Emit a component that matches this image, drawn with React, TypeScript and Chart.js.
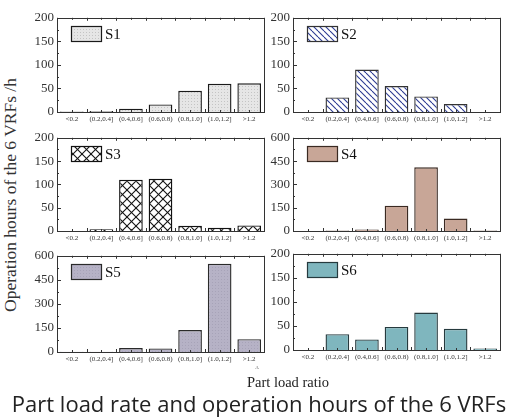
import React, { useEffect, useRef } from "react";
import { Chart, registerables } from "chart.js";

Chart.register(...registerables);

const categories = ["<0.2", "(0.2,0.4]", "(0.4,0.6]", "(0.6,0.8)", "(0.8,1.0]", "(1.0,1.2]", ">1.2"];
const s1Values = [1, 2, 7, 16, 45, 60, 61];
const s2Values = [0, 31, 90, 55, 33, 17, 0];
const s3Values = [0, 4, 110, 112, 11, 7, 12];
const s4Values = [0, 3, 10, 163, 410, 80, 3];
const s5Values = [2, 2, 25, 22, 137, 550, 80];
const s6Values = [0, 33, 22, 48, 78, 44, 3];
const seriesNames = ["S1", "S2", "S3", "S4", "S5", "S6"];
const smallMax = 200;
const smallStep = 50;
const bigMax = 600;
const bigStep = 150;

const SERIF = "'Liberation Serif', 'Times New Roman', serif";

type Kind = "dots" | "hatch" | "cross" | "solid";

function makePattern(kind: Kind, bg: string, fg: string): CanvasPattern | string {
  if (kind === "solid") return bg;
  const c = document.createElement("canvas");
  const size = kind === "dots" ? 3 : kind === "hatch" ? 6 : 9;
  c.width = size;
  c.height = size;
  const ctx = c.getContext("2d")!;
  ctx.fillStyle = bg;
  ctx.fillRect(0, 0, size, size);
  if (kind === "dots") {
    ctx.fillStyle = fg;
    ctx.fillRect(1, 1, 1, 1);
  } else if (kind === "hatch") {
    ctx.strokeStyle = fg;
    ctx.lineWidth = 1.1;
    for (const o of [-size, 0, size]) {
      ctx.beginPath();
      ctx.moveTo(o, 0);
      ctx.lineTo(o + size, size);
      ctx.stroke();
    }
  } else {
    ctx.strokeStyle = fg;
    ctx.lineWidth = 1.1;
    for (const o of [-size, 0, size]) {
      ctx.beginPath();
      ctx.moveTo(o, 0);
      ctx.lineTo(o + size, size);
      ctx.stroke();
      ctx.beginPath();
      ctx.moveTo(o + size, 0);
      ctx.lineTo(o, size);
      ctx.stroke();
    }
  }
  const ctx2 = document.createElement("canvas").getContext("2d")!;
  return ctx2.createPattern(c, "repeat")!;
}

interface PanelSpec {
  name: string;
  values: number[];
  max: number;
  step: number;
  kind: Kind;
  bg: string;
  fg: string;
  border: string;
  left: number;
  top: number;
  plotH: number;
}

const PLOT_W = 207;
const Y_W = 29;
const PAD_TOP = 8;
const X_H = 14;

const panels: PanelSpec[] = [
  { name: seriesNames[0], values: s1Values, max: smallMax, step: smallStep, kind: "dots", bg: "#e6e6e6", fg: "#c4c4c4", border: "#1a1a1a", left: 28, top: 15, plotH: 97 },
  { name: seriesNames[1], values: s2Values, max: smallMax, step: smallStep, kind: "hatch", bg: "#ffffff", fg: "#2b3a93", border: "#333333", left: 264, top: 15, plotH: 97 },
  { name: seriesNames[2], values: s3Values, max: smallMax, step: smallStep, kind: "cross", bg: "#ffffff", fg: "#111111", border: "#111111", left: 28, top: 135, plotH: 96 },
  { name: seriesNames[3], values: s4Values, max: bigMax, step: bigStep, kind: "solid", bg: "#c8a697", fg: "", border: "#3a2a22", left: 264, top: 135, plotH: 96 },
  { name: seriesNames[4], values: s5Values, max: bigMax, step: bigStep, kind: "dots", bg: "#b6b2c6", fg: "#a7a3b8", border: "#2a2a2a", left: 28, top: 253, plotH: 99 },
  { name: seriesNames[5], values: s6Values, max: smallMax, step: smallStep, kind: "solid", bg: "#7fb6be", fg: "", border: "#263a3e", left: 264, top: 251, plotH: 99 },
];

function Panel({ spec }: { spec: PanelSpec }) {
  const ref = useRef<HTMLCanvasElement>(null);
  const width = Y_W + PLOT_W + 2;
  const height = PAD_TOP + spec.plotH + X_H;
  useEffect(() => {
    const fill = makePattern(spec.kind, spec.bg, spec.fg);
    const framePlugin = {
      id: "frame",
      afterDraw(chart: any) {
        const { ctx, chartArea } = chart;
        const { left, top, right, bottom } = chartArea;
        ctx.save();
        ctx.strokeStyle = "#333";
        ctx.lineWidth = 1;
        ctx.strokeRect(Math.round(left) + 0.5, Math.round(top) + 0.5, Math.round(right - left), Math.round(bottom - top));
        const y = chart.scales.y;
        const n = spec.max / spec.step;
        for (let i = 0; i <= n * 2; i++) {
          const v = (i * spec.step) / 2;
          const py = Math.round(y.getPixelForValue(v)) + 0.5;
          const len = i % 2 === 0 ? 4 : 2;
          ctx.beginPath();
          ctx.moveTo(left, py);
          ctx.lineTo(left + len, py);
          ctx.stroke();
        }
        const cw = (right - left) / categories.length;
        for (let i = 0; i <= categories.length * 2; i++) {
          const px = Math.round(left + (i * cw) / 2) + 0.5;
          const len = i % 2 === 0 ? 3 : 2;
          ctx.beginPath();
          ctx.moveTo(px, bottom);
          ctx.lineTo(px, bottom - len);
          ctx.moveTo(px, top);
          ctx.lineTo(px, top + len);
          ctx.stroke();
        }
        const lx = Math.round(left) + 14;
        const ly = Math.round(top) + 8;
        ctx.fillStyle = fill as any;
        ctx.fillRect(lx, ly, 30, 15);
        ctx.strokeStyle = spec.border;
        ctx.lineWidth = 1.2;
        ctx.strokeRect(lx + 0.5, ly + 0.5, 30, 15);
        ctx.fillStyle = "#111";
        ctx.font = `15px ${SERIF}`;
        ctx.textBaseline = "middle";
        ctx.textAlign = "left";
        ctx.fillText(spec.name, lx + 34, ly + 9);
        ctx.restore();
      },
    };
    const chart = new Chart(ref.current!, {
      type: "bar",
      data: {
        labels: categories,
        datasets: [
          {
            data: spec.values,
            backgroundColor: fill as any,
            borderColor: spec.border,
            borderWidth: 1.4,
            barPercentage: 0.8,
            categoryPercentage: 1,
          },
        ],
      },
      options: {
        animation: false,
        responsive: false,
        devicePixelRatio: 1,
        layout: { padding: { top: PAD_TOP, right: 2, left: 0, bottom: 0 } },
        plugins: { legend: { display: false }, tooltip: { enabled: false } },
        scales: {
          x: {
            grid: { display: false, drawTicks: false },
            border: { display: false },
            ticks: {
              font: { family: SERIF, size: 7 },
              color: "#333",
              maxRotation: 0,
              minRotation: 0,
              autoSkip: false,
              padding: 3,
            },
            afterFit: (s: any) => {
              s.height = X_H;
            },
          },
          y: {
            min: 0,
            max: spec.max,
            grid: { display: false, drawTicks: false },
            border: { display: false },
            ticks: {
              stepSize: spec.step,
              font: { family: SERIF, size: 13 },
              color: "#333",
              padding: 3,
            },
            afterFit: (s: any) => {
              s.width = Y_W;
            },
          },
        },
      },
      plugins: [framePlugin],
    });
    return () => chart.destroy();
  }, [spec]);
  return (
    <div style={{ position: "absolute", left: spec.left, top: spec.top - PAD_TOP, width, height }}>
      <canvas ref={ref} width={width} height={height} style={{ width, height, display: "block" }} />
    </div>
  );
}

export default function App() {
  return (
    <div style={{ position: "absolute", left: 0, top: 0, width: 514, height: 418, background: "#fff", overflow: "hidden" }}>
      {panels.map((p) => (
        <Panel key={p.name} spec={p} />
      ))}
      <div
        style={{
          position: "absolute",
          left: 11,
          top: 195,
          transform: "translate(-50%, -50%) rotate(-90deg)",
          whiteSpace: "nowrap",
          fontFamily: SERIF,
          fontSize: 17.5,
          color: "#333",
          lineHeight: 1,
        }}
      >
        Operation hours of the 6 VRFs /h
      </div>
      <div
        style={{
          position: "absolute",
          left: 257,
          top: 367,
          transform: "translate(-50%, -50%)",
          fontFamily: SERIF,
          fontSize: 5,
          color: "#555",
          lineHeight: 1,
        }}
      >
        A
      </div>
      <div
        style={{
          position: "absolute",
          left: 288,
          top: 382,
          transform: "translate(-50%, -50%)",
          whiteSpace: "nowrap",
          fontFamily: SERIF,
          fontSize: 14.5,
          color: "#222",
          lineHeight: 1,
        }}
      >
        Part load ratio
      </div>
      <div
        style={{
          position: "absolute",
          left: 259,
          top: 403,
          transform: "translate(-50%, -50%)",
          whiteSpace: "nowrap",
          fontFamily: "'Open Sans', sans-serif",
          fontSize: 22,
          color: "#222",
          lineHeight: 1,
        }}
      >
        Part load rate and operation hours of the 6 VRFs
      </div>
    </div>
  );
}
